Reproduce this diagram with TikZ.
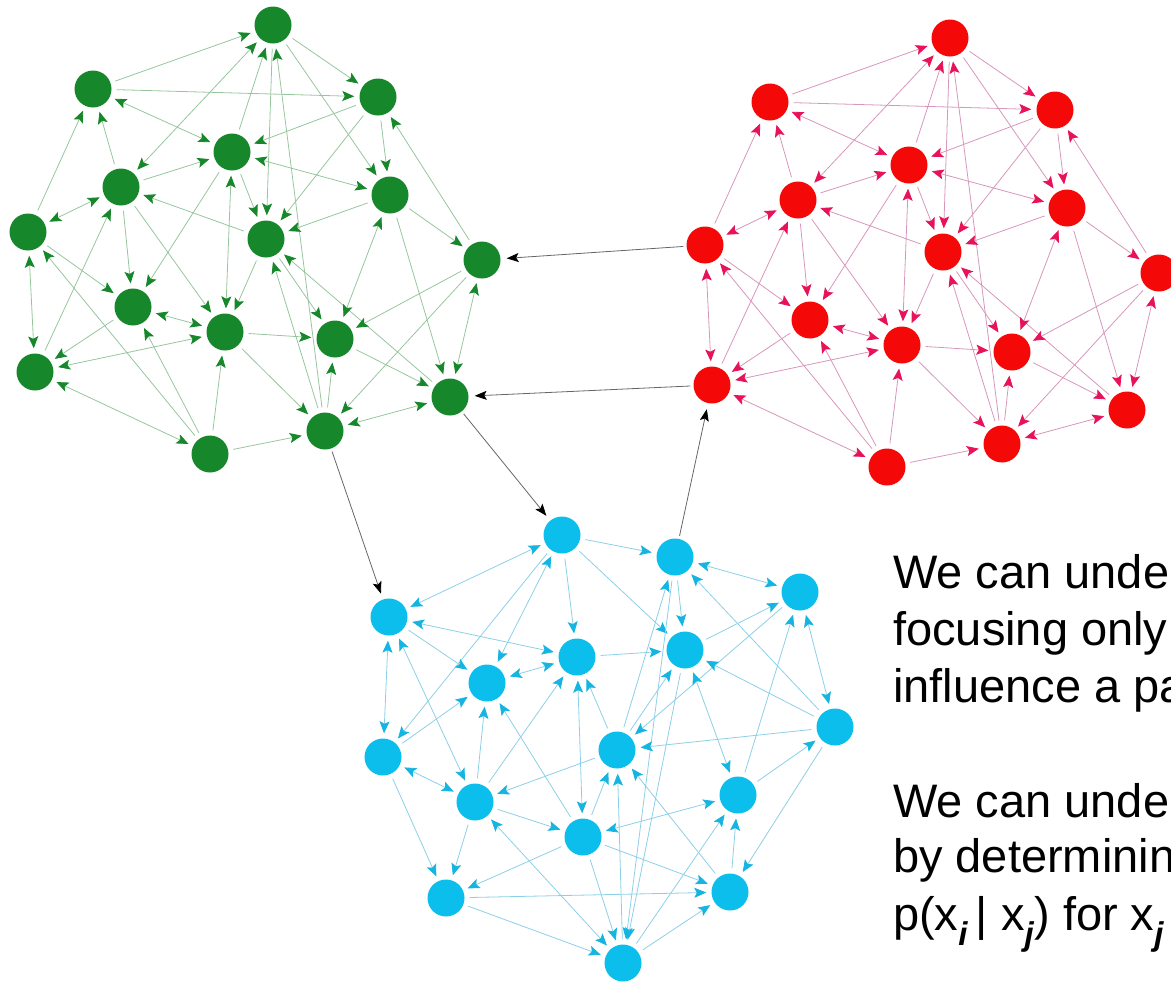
\documentclass[tikz,border=0pt]{standalone}
\usepackage{fontspec}
\setmainfont{Liberation Sans}
\usetikzlibrary{arrows.meta}
\usetikzlibrary{backgrounds}
\definecolor{dotgreen}{RGB}{22,135,42}
\definecolor{wiregreen}{RGB}{150,198,158}
\definecolor{dotred}{RGB}{245,8,8}
\definecolor{tipred}{RGB}{232,18,88}
\definecolor{wirered}{RGB}{215,150,188}
\definecolor{dotcyan}{RGB}{12,190,236}
\definecolor{tipcyan}{RGB}{22,180,225}
\definecolor{wirecyan}{RGB}{140,208,232}
\newcommand\subix[1]{\textsubscript{\bfseries\itshape #1}}
\tikzset{x = 1pt, y = -1pt,
  vtx/.style = {circle, inner sep = 0pt, minimum size = 37pt},
  gvtx/.style = {vtx, fill = dotgreen},
  rvtx/.style = {vtx, fill = dotred},
  cvtx/.style = {vtx, fill = dotcyan},
  wire/.style = {line width = 0.8pt, shorten > = 5pt, shorten < = 5pt},
  gwire/.style = {wire, draw = wiregreen, > = {Stealth[length = 12pt, width = 10pt, inset = 2.5pt, color = dotgreen]}},
  rwire/.style = {wire, draw = wirered, > = {Stealth[length = 12pt, width = 10pt, inset = 2.5pt, color = tipred]}},
  cwire/.style = {wire, draw = wirecyan, > = {Stealth[length = 12pt, width = 10pt, inset = 2.5pt, color = tipcyan]}},
  link/.style = {->, line width = 0.8pt, draw = black!60, shorten > = 6pt, shorten < = 3pt,
    > = {Stealth[length = 12pt, width = 9pt, inset = 2.5pt, color = black]}},
  note/.style = {anchor = base west, inner sep = 0pt, font = \fontsize{47}{57}\selectfont}}

\begin{document}
\begin{tikzpicture}
  \useasboundingbox (0,0) rectangle (1171,986);
  \clip (0,0) rectangle (1171,986);
  % nodes (the red net is the green one moved)
  \foreach \n/\px/\py in {1/273/25, 2/93/89, 3/378/97, 4/232/152, 5/121/187, 6/390/195,
      7/28/232, 8/266/239, 9/482/260, 10/133/307, 11/225/332, 12/335/339,
      13/35/372, 14/450/397, 15/325/431, 16/210/454} {
    \node [gvtx] (g\n) at (\px,\py) {};
    \node [rvtx] (r\n) at (\px+677,\py+13) {};
  }
  \foreach \n/\px/\py in {1/562/535, 2/675/557, 3/800/592, 4/389/617, 5/577/657, 6/685/650,
      7/487/683, 8/835/727, 9/383/757, 10/617/750, 11/475/802, 12/738/795,
      13/583/837, 14/446/898, 15/730/892, 16/623/963}
    \node [cvtx] (c\n) at (\px,\py) {};
  % paths
  \begin{pgfonlayer}{background}
    \foreach \a/\b in {2/1, 2/3, 1/3, 3/4, 4/1, 1/8, 15/1, 1/6, 7/2, 5/2, 3/6, 3/8, 9/3,
        5/4, 4/8, 4/10, 8/5, 5/10, 5/11, 6/8, 6/9, 6/14, 7/10, 16/7, 8/11, 8/12, 14/8,
        9/12, 9/15, 10/13, 13/5, 16/10, 16/11, 11/12, 11/15, 15/12, 15/8, 12/14, 16/15} {
      \draw [gwire, ->] (g\a) -- (g\b);
      \draw [rwire, ->] (r\a) -- (r\b);
    }
    \foreach \a/\b in {2/4, 1/5, 4/6, 4/11, 5/7, 6/12, 7/13, 9/14, 10/11, 11/13, 13/16, 14/15} {
      \draw [gwire, <->] (g\a) -- (g\b);
      \draw [rwire, <->] (r\a) -- (r\b);
    }
    \foreach \a/\b in {1/2, 1/5, 1/6, 1/9, 10/2, 8/2, 2/6, 2/16, 6/3, 3/10, 12/3, 4/7, 11/5,
        10/5, 5/6, 10/6, 8/6, 6/16, 9/7, 11/7, 13/7, 12/8, 8/15, 8/10, 9/14, 15/10, 16/10,
        13/10, 10/11, 11/13, 11/14, 16/12, 15/12, 13/14, 13/16, 13/15, 14/15, 14/16, 16/15}
      \draw [cwire, ->] (c\a) -- (c\b);
    \foreach \a/\b in {1/4, 1/7, 2/3, 3/8, 4/5, 4/9, 4/11, 5/7, 5/13, 6/12, 9/11, 16/11, 12/13}
      \draw [cwire, <->] (c\a) -- (c\b);
    % between the nets
    \draw [link] (r7) -- (g9);
    \draw [link] (r13) -- (g14);
    \draw [link] (g14) -- (c1);
    \draw [link] (g15) -- (c4);
    \draw [link] (c2) -- (r13);
  \end{pgfonlayer}
  % text
  \node [note] (l1) at (893,588) {We can unde};
  \node [note] (l2) at (893,645) {focusing only};
  \node [note] (l3) at (893,702) {influence a pa};
  \node [note] (l4) at (893,817) {We can unde};
  \node [note] (l5) at (893,872) {by determinin};
  \node [note] (l6) at (893,930) {p(x\subix{i}\,| x\subix{j}) for x\subix{j}};
\end{tikzpicture}
\end{document}
